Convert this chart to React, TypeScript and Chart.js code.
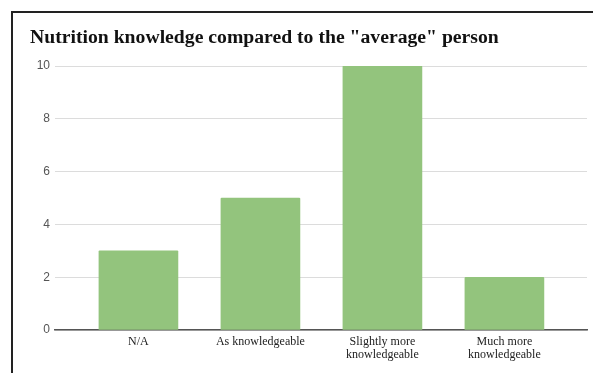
import React, { useEffect, useRef } from "react";
import { Chart, registerables } from "chart.js";

Chart.register(...registerables);

// Survey responses: self-rated nutrition knowledge
const categories: (string | string[])[] = [
  "N/A",
  "As knowledgeable",
  ["Slightly more", "knowledgeable"],
  ["Much more", "knowledgeable"],
];
const counts = [3, 5, 10, 2];
const yTicks = [0, 2, 4, 6, 8, 10];
const titleText = 'Nutrition knowledge compared to the "average" person';

const W = 593;
const H = 373;

export default function App() {
  const canvasRef = useRef<HTMLCanvasElement | null>(null);

  useEffect(() => {
    const canvas = canvasRef.current;
    if (!canvas) return;
    const chart = new Chart(canvas, {
      type: "bar",
      data: {
        datasets: [
          {
            data: counts.map((v, i) => ({ x: i, y: v })),
            backgroundColor: "#93c47d",
            borderWidth: 0,
            borderRadius: 1,
            barThickness: 79,
          },
        ],
      },
      options: {
        animation: false,
        responsive: false,
        maintainAspectRatio: false,
        layout: { padding: { top: 12, left: 30, right: 6, bottom: 0 } },
        plugins: {
          legend: { display: false },
          tooltip: { enabled: false },
          title: {
            display: true,
            text: titleText,
            align: "start",
            color: "#111",
            font: { family: "'Liberation Serif', 'Times New Roman', serif", size: 19.7, weight: "bold", lineHeight: 1.2 },
            padding: { top: 13.7, bottom: 16.7 },
          },
        },
        scales: {
          x: {
            type: "linear",
            min: -0.684,
            max: 3.677,
            offset: false,
            grid: { display: false, drawTicks: false },
            border: { display: true, color: "#555", width: 1.5 },
            afterBuildTicks: (scale: any) => {
              scale.ticks = categories.map((_, i) => ({ value: i }));
            },
            afterFit: (scale: any) => {
              scale.height = 43;
            },
            ticks: {
              autoSkip: false,
              maxRotation: 0,
              padding: 5.7,
              color: "#222",
              font: { family: "'Liberation Serif', 'Times New Roman', serif", size: 12, lineHeight: 1.05 },
              callback: (v: any) => categories[Number(v)] ?? "",
            },
          },
          y: {
            min: 0,
            max: 10,
            afterBuildTicks: (scale: any) => {
              scale.ticks = yTicks.map((v) => ({ value: v }));
            },
            afterFit: (scale: any) => {
              scale.width = 25;
            },
            grid: { color: "#dcdcdc", lineWidth: 1, drawTicks: false },
            border: { display: false },
            ticks: {
              padding: 5,
              color: "#555",
              font: { family: "'Liberation Sans', Arial, sans-serif", size: 12 },
            },
          },
        },
      },
    });
    return () => chart.destroy();
  }, []);

  return (
    <div
      style={{
        position: "fixed",
        left: 0,
        top: 0,
        width: W,
        height: H,
        background: "#fff",
        overflow: "hidden",
      }}
    >
      <canvas ref={canvasRef} width={W} height={H} style={{ position: "absolute", left: 0, top: 0 }} />
      <div
        style={{
          position: "absolute",
          left: 11,
          top: 11,
          width: W,
          height: H,
          borderTop: "2px solid #222",
          borderLeft: "2px solid #222",
          pointerEvents: "none",
        }}
      />
    </div>
  );
}
